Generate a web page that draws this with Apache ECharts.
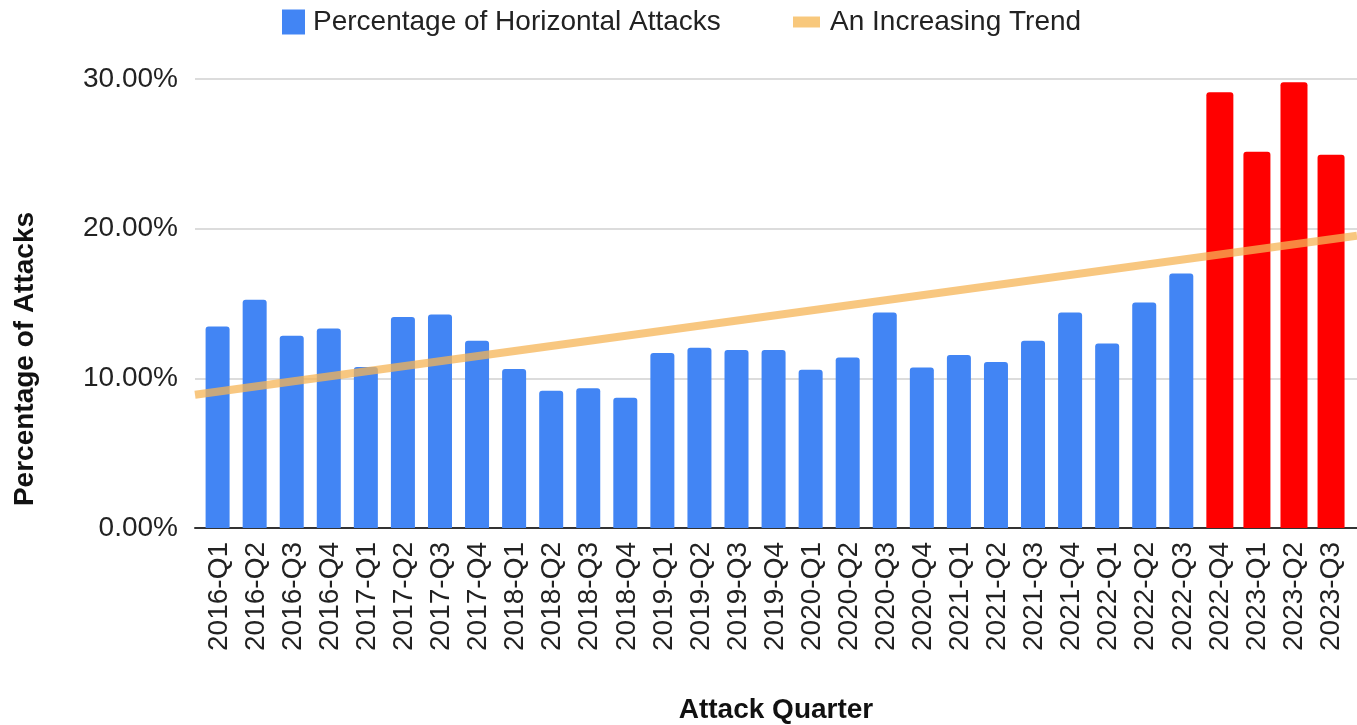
<!DOCTYPE html>
<html>
<head>
<meta charset="utf-8">
<script src="https://cdn.jsdelivr.net/npm/echarts@6/dist/echarts.min.js"></script>
<style>html,body{margin:0;padding:0;background:#fff;}#c{width:1357px;height:725px;}</style>
</head>
<body>
<div id="c"></div>
<script>
const quarters = ['2016-Q1','2016-Q2','2016-Q3','2016-Q4','2017-Q1','2017-Q2','2017-Q3','2017-Q4',
  '2018-Q1','2018-Q2','2018-Q3','2018-Q4','2019-Q1','2019-Q2','2019-Q3','2019-Q4',
  '2020-Q1','2020-Q2','2020-Q3','2020-Q4','2021-Q1','2021-Q2','2021-Q3','2021-Q4',
  '2022-Q1','2022-Q2','2022-Q3','2022-Q4','2023-Q1','2023-Q2','2023-Q3'];
const horizontalPct = [13.47, 15.25, 12.85, 13.33, 10.75, 14.1, 14.27, 12.51,
  10.62, 9.17, 9.33, 8.70, 11.69, 12.04, 11.89, 11.89,
  10.57, 11.4, 14.4, 10.73, 11.56, 11.09, 12.51, 14.4,
  12.33, 15.07, 17.0, 29.12, 25.14, 29.79, 24.94];
const highlightFrom = 27; // 2022-Q4 onward shown in red
const trendEnds = [8.9, 19.53]; // trend value at left and right edge of plot
const yTicks = [0, 10, 20, 30];

const xMin = -0.65, xMax = 30.7;
const blueData = [], redData = [];
horizontalPct.forEach((v, i) => (i < highlightFrom ? blueData : redData).push([i, v]));

const font = 'Liberation Sans, Arial, sans-serif';
const chart = echarts.init(document.getElementById('c'));
chart.setOption({
  animation: false,
  textStyle: { fontFamily: font },
  legend: [
    { left: 282, top: 8, padding: 0, itemWidth: 23, itemHeight: 25, itemGap: 10,
      textStyle: { fontSize: 28, color: '#222', lineHeight: 28, fontFamily: font, padding: [0, 0, 0, 3] },
      data: [{ name: 'Percentage of Horizontal Attacks', icon: 'rect' }] },
    { left: 793, top: 8, padding: 0, itemWidth: 27, itemHeight: 11,
      textStyle: { fontSize: 28, color: '#222', lineHeight: 28, fontFamily: font, padding: [0, 0, 0, 5] },
      data: [{ name: 'An Increasing Trend', icon: 'rect', itemStyle: { color: '#F8C87C' } }] }
  ],
  grid: { left: 195, right: 0, top: 79, bottom: 197 },
  xAxis: [{
    type: 'value', min: xMin, max: xMax,
    axisLine: { show: true, onZero: false, lineStyle: { color: '#333', width: 2 } },
    axisTick: { show: false },
    splitLine: { show: false },
    axisLabel: {
      customValues: quarters.map((q, i) => i),
      formatter: v => quarters[Math.round(v)] || '',
      rotate: 90, fontSize: 28, color: '#222', margin: 14, fontFamily: font,
      showMinLabel: true, showMaxLabel: true
    }
  }],
  yAxis: {
    type: 'value', min: 0, max: 30, interval: 10,
    axisLine: { show: false }, axisTick: { show: false },
    splitLine: { lineStyle: { color: '#d0d0d0', width: 1.5 } },
    axisLabel: { formatter: v => v.toFixed(2) + '%', fontSize: 28, color: '#222', margin: 17, fontFamily: font }
  },
  graphic: [
    { type: 'text', x: 25, y: 359, rotation: Math.PI / 2,
      style: { text: 'Percentage of Attacks', font: 'bold 28px ' + font, fill: '#111', align: 'center', verticalAlign: 'middle' } },
    { type: 'text', x: 776, y: 710,
      style: { text: 'Attack Quarter', font: 'bold 28px ' + font, fill: '#111', align: 'center', verticalAlign: 'middle' } }
  ],
  series: [
    { name: 'Percentage of Horizontal Attacks', type: 'bar', data: blueData, barWidth: 24,
      itemStyle: { color: '#4285F4', borderRadius: [3, 3, 0, 0] } },
    { name: 'Highlighted', type: 'bar', data: redData, barWidth: 27, barGap: '-100%',
      itemStyle: { color: '#FF0000', borderRadius: [3, 3, 0, 0] } },
    { name: 'An Increasing Trend', type: 'line', data: [[xMin, trendEnds[0]], [xMax, trendEnds[1]]],
      symbol: 'none', z: 5, clip: false,
      lineStyle: { color: 'rgba(246,180,85,0.75)', width: 8 }, itemStyle: { color: '#F8C87C' } }
  ]
});
</script>
</body>
</html>
